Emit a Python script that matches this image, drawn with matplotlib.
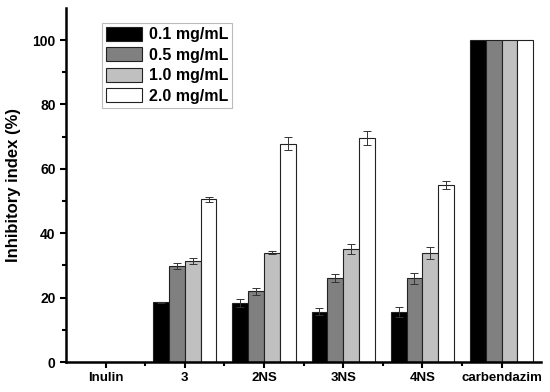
import matplotlib
matplotlib.use("Agg")
import matplotlib.pyplot as plt
import numpy as np

categories = ["Inulin", "3", "2NS", "3NS", "4NS", "carbendazim"]
series = ["0.1 mg/mL", "0.5 mg/mL", "1.0 mg/mL", "2.0 mg/mL"]

c01 = [0, 18.5, 18.3, 15.6, 15.6, 100]
c05 = [0, 29.8, 21.9, 26.1, 26.0, 100]
c10 = [0, 31.3, 34.0, 35.1, 33.9, 100]
c20 = [0, 50.5, 67.8, 69.5, 54.9, 100]

e01 = [0, 0.2, 1.2, 1.1, 1.6, 0]
e05 = [0, 0.8, 1.1, 1.2, 1.8, 0]
e10 = [0, 1.0, 0.6, 1.5, 1.8, 0]
e20 = [0, 0.7, 2.0, 2.2, 1.3, 0]

colors = ["#000000", "#808080", "#c0c0c0", "#ffffff"]


def main():
    plt.rcParams["font.family"] = ["Liberation Sans", "DejaVu Sans"]
    plt.rcParams["font.weight"] = "bold"

    fig = plt.figure(figsize=(5.5, 3.92), dpi=100)
    ax = fig.add_axes([0.12, 0.0765, 0.864, 0.9035])

    x = np.arange(len(categories))
    w = 0.2
    vals = [c01, c05, c10, c20]
    errs = [e01, e05, e10, e20]
    for i in range(4):
        pos = x + (i - 1.5) * w
        ax.bar(pos, vals[i], w, color=colors[i], edgecolor="#222222",
               linewidth=0.8, label=series[i])
        mask = np.array(errs[i]) > 0
        ax.errorbar(pos[mask], np.array(vals[i])[mask], yerr=np.array(errs[i])[mask],
                    fmt="none", ecolor="#333333", elinewidth=0.7, capsize=3,
                    capthick=0.7)

    ax.set_xlim(-0.5, 5.5)
    ax.set_ylim(0, 110)
    ax.set_xticks(x)
    ax.set_xticklabels(categories, fontsize=9.5, fontweight="bold")
    ax.set_xticks(x[:-1] + 0.5, minor=True)
    ax.set_yticks([0, 20, 40, 60, 80, 100])
    ax.set_yticks([10, 30, 50, 70, 90], minor=True)
    ax.tick_params(axis="y", labelsize=10)
    ax.tick_params(which="major", direction="out", length=4, width=1.5)
    ax.tick_params(which="minor", direction="out", length=3, width=1.5)
    ax.set_ylabel("Inhibitory index (%)", fontsize=12, fontweight="bold",
                  labelpad=8)
    for s in ["top", "right"]:
        ax.spines[s].set_visible(False)
    for s in ["left", "bottom"]:
        ax.spines[s].set_linewidth(1.8)

    leg = ax.legend(loc="upper left", bbox_to_anchor=(0.075, 0.958), fontsize=11.5,
                    handlelength=2.3, handleheight=1.0, fancybox=False,
                    framealpha=1, borderpad=0.25, labelspacing=0.3,
                    handletextpad=0.4, borderaxespad=0)
    leg.get_frame().set_edgecolor("#bbbbbb")
    leg.get_frame().set_linewidth(0.8)

    fig.savefig("out.png", dpi=100)


if __name__ == "__main__":
    main()
